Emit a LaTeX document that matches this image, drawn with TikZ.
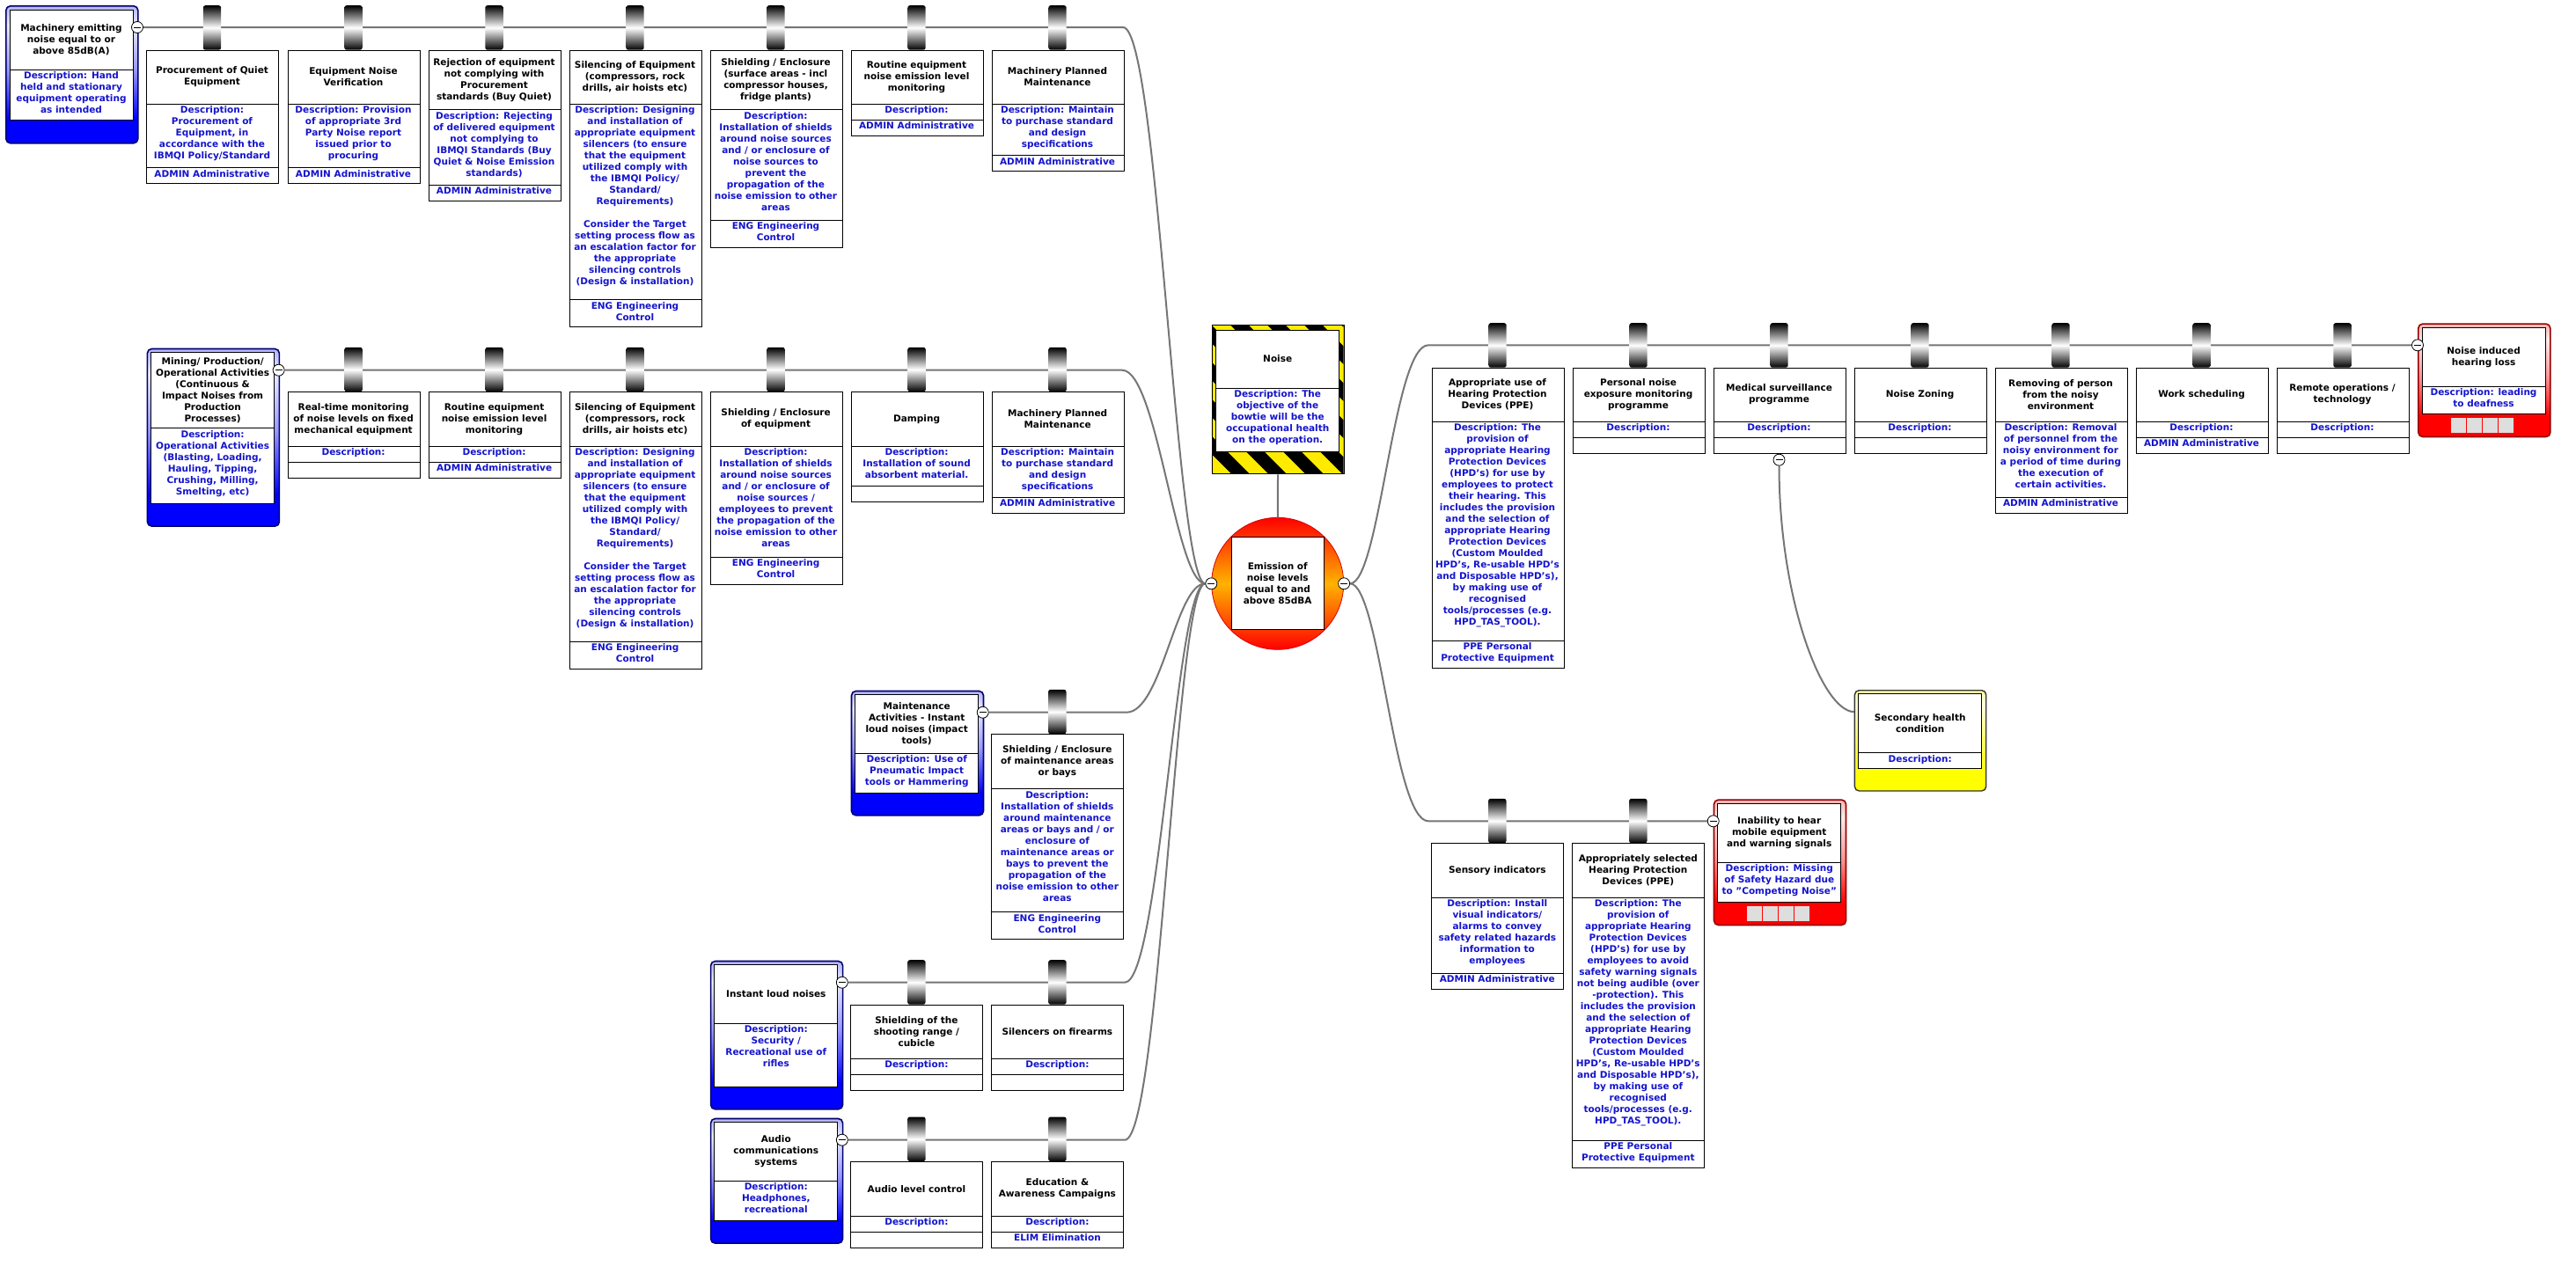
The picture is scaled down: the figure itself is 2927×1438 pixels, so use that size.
\documentclass[tikz,border=0pt]{standalone}
\usepackage{fontspec}
\setmainfont{DejaVu Sans}
\usetikzlibrary{backgrounds}
\definecolor{descblue}{RGB}{20,20,205}
\definecolor{linegray}{RGB}{118,118,118}
\definecolor{navyb}{RGB}{0,0,110}
\definecolor{darkredb}{RGB}{150,0,0}
\definecolor{hzyellow}{RGB}{255,235,0}
\definecolor{sqgray}{RGB}{222,222,222}
\colorlet{tbA}{blue!30!white}
\colorlet{tbB}{blue!8!white}
\colorlet{tbC}{blue!40!white}
\colorlet{trA}{red!30!white}
\colorlet{trB}{red!8!white}
\colorlet{trC}{red!40!white}
\colorlet{tyA}{yellow!40!white}
\colorlet{tyB}{yellow!10!white}
\colorlet{tyC}{yellow!55!white}
\pgfdeclareverticalshading{thrshade}{100bp}{color(0bp)=(blue); color(34bp)=(blue); color(52bp)=(tbC); color(68bp)=(tbB); color(75bp)=(tbA); color(100bp)=(tbA)}
\pgfdeclareverticalshading{conshade}{100bp}{color(0bp)=(red); color(34bp)=(red); color(52bp)=(trC); color(68bp)=(trB); color(75bp)=(trA); color(100bp)=(trA)}
\pgfdeclareverticalshading{secshade}{100bp}{color(0bp)=(yellow); color(34bp)=(yellow); color(52bp)=(tyC); color(68bp)=(tyB); color(75bp)=(tyA); color(100bp)=(tyA)}

% barrier: name, xleft, ytop, div1, div2, bottom, title, desc, category
\newcommand\mkbar[9]{%
  \shade[tabsh] ({#2+64.8},{#3-50.5}) rectangle ({#2+85.2},#3);
  \node[barbox, minimum height={#6pt-#3pt}] (#1) at (#2,#3) {};
  \draw[secl] (#2,#4) -- ({#2+150},#4);
  \draw[secl] (#2,#5) -- ({#2+150},#5);
  \node[ttl] (#1t) at ({#2+75},{(#3+#4)/2}) {#7};
  \node[dsc, anchor=north] (#1d) at ({#2+75},{#4+2.5}) {#8};
  \node[dsc, anchor=north] (#1c) at ({#2+75},{#5+2.5}) {#9};
}
% threat: name, xleft, ytop, ybottom, inner bottom, divider, title, desc
\newcommand\mkthreat[8]{%
  \node[shade, shading=thrshade, draw=navyb, line width=1.6pt, rounded corners=5pt, anchor=north west, minimum width=150pt, minimum height={#4pt-#3pt}, inner sep=0pt] (#1) at (#2,#3) {};
  \draw[secl, fill=white] ({#2+5},{#3+5}) rectangle ({#2+145},#5);
  \draw[secl] ({#2+5},#6) -- ({#2+145},#6);
  \node[ttl] (#1t) at ({#2+75},{(#3+5+#6)/2}) {#7};
  \node[dsc, anchor=north] (#1d) at ({#2+75},{#6+2.5}) {#8};
  \node[minus] (#1m) at ({#2+150},{#3+25}) {};
}
% consequence: name, xleft, ytop, ybottom, inner bottom, divider, title, desc
\newcommand\mkcons[8]{%
  \node[shade, shading=conshade, draw=darkredb, line width=1.6pt, rounded corners=5pt, anchor=north west, minimum width=150pt, minimum height={#4pt-#3pt}, inner sep=0pt] (#1) at (#2,#3) {};
  \draw[secl, fill=white] ({#2+5},{#3+5}) rectangle ({#2+145},#5);
  \draw[secl] ({#2+5},#6) -- ({#2+145},#6);
  \node[ttl] (#1t) at ({#2+75},{(#3+5+#6)/2}) {#7};
  \node[dsc, anchor=north] (#1d) at ({#2+75},{#6+2.5}) {#8};
  \foreach \q in {0,1,2,3} {\fill[sqgray] ({#2+38+\q*18},{#5+5}) rectangle ++(17,16.5);}
  \node[minus] (#1m) at (#2,{#3+25}) {};
}

\begin{document}
\begin{tikzpicture}[x=1pt,y=-1pt,
  conn/.style={draw=linegray, line width=2pt},
  secl/.style={draw=black, line width=1pt},
  barbox/.style={draw=black, line width=1pt, fill=white, anchor=north west, minimum width=150pt, inner sep=0pt},
  ttl/.style={font=\bfseries\fontsize{10.5}{13}\selectfont, align=center, text=black, inner sep=0pt},
  dsc/.style={font=\bfseries\fontsize{10.5}{13}\selectfont, align=center, text=descblue, inner sep=0pt},
  minus/.style={circle, draw=black, fill=white, line width=0.8pt, minimum size=13pt, inner sep=0pt,
    path picture={\draw[line width=0.9pt] ([xshift=-4pt]path picture bounding box.center) -- ([xshift=4pt]path picture bounding box.center);}},
  tabsh/.style={top color=black, bottom color=black, middle color=white, rounded corners=2.5pt},
]
\useasboundingbox (0,0) rectangle (2927,1438);

% ---------------- Row 1 (threat A) ----------------
\mkthreat{thA}{6}{6}{162}{136}{79}{Machinery emitting\\noise equal to or\\above 85dB(A)}{Description: Hand\\held and stationary\\equipment operating\\as intended}
\mkbar{bA1}{166}{56.7}{118.3}{190.7}{208.3}{Procurement of Quiet\\Equipment}{Description:\\Procurement of\\Equipment, in\\accordance with the\\IBMQI Policy/Standard}{ADMIN Administrative}
\mkbar{bA2}{326.5}{56.7}{118.3}{190.7}{208.3}{Equipment Noise\\Verification}{Description: Provision\\of appropriate 3rd\\Party Noise report\\issued prior to\\procuring}{ADMIN Administrative}
\mkbar{bA3}{486.5}{56.7}{124.7}{210}{228.3}{Rejection of equipment\\not complying with\\Procurement\\standards (Buy Quiet)}{Description: Rejecting\\of delivered equipment\\not complying to\\IBMQI Standards (Buy\\Quiet \& Noise Emission\\standards)}{ADMIN Administrative}
\mkbar{bA4}{646.5}{56.7}{118.3}{340.7}{371}{Silencing of Equipment\\(compressors, rock\\drills, air hoists etc)}{Description: Designing\\and installation of\\appropriate equipment\\silencers (to ensure\\that the equipment\\utilized comply with\\the IBMQI Policy/\\Standard/\\Requirements)\\[13pt]Consider the Target\\setting process flow as\\an escalation factor for\\the appropriate\\silencing controls\\(Design \& installation)}{ENG Engineering\\Control}
\mkbar{bA5}{806.5}{56.7}{124.7}{250}{281}{Shielding / Enclosure\\(surface areas - incl\\compressor houses,\\fridge plants)}{Description:\\Installation of shields\\around noise sources\\and / or enclosure of\\noise sources to\\prevent the\\propagation of the\\noise emission to other\\areas}{ENG Engineering\\Control}
\mkbar{bA6}{966.5}{56.7}{118.3}{136.3}{154}{Routine equipment\\noise emission level\\monitoring}{Description:}{ADMIN Administrative}
\mkbar{bA7}{1126.5}{56.7}{118.3}{176.7}{194}{Machinery Planned\\Maintenance}{Description: Maintain\\to purchase standard\\and design\\specifications}{ADMIN Administrative}

% ---------------- Row 2 (threat B) ----------------
\mkthreat{thB}{166.6}{395.7}{597.3}{572.3}{486.7}{Mining/ Production/\\Operational Activities\\(Continuous \&\\Impact Noises from\\Production\\Processes)}{Description:\\Operational Activities\\(Blasting, Loading,\\Hauling, Tipping,\\Crushing, Milling,\\Smelting, etc)}
\mkbar{bB1}{326.6}{445.3}{507.3}{525.3}{543.3}{Real-time monitoring\\of noise levels on fixed\\mechanical equipment}{Description:}{}
\mkbar{bB2}{486.6}{445.3}{507.3}{525.3}{543.3}{Routine equipment\\noise emission level\\monitoring}{Description:}{ADMIN Administrative}
\mkbar{bB3}{646.6}{445.3}{507.3}{729}{760}{Silencing of Equipment\\(compressors, rock\\drills, air hoists etc)}{Description: Designing\\and installation of\\appropriate equipment\\silencers (to ensure\\that the equipment\\utilized comply with\\the IBMQI Policy/\\Standard/\\Requirements)\\[13pt]Consider the Target\\setting process flow as\\an escalation factor for\\the appropriate\\silencing controls\\(Design \& installation)}{ENG Engineering\\Control}
\mkbar{bB4}{806.6}{445.3}{507.3}{633.3}{664.3}{Shielding / Enclosure\\of equipment}{Description:\\Installation of shields\\around noise sources\\and / or enclosure of\\noise sources /\\employees to prevent\\the propagation of the\\noise emission to other\\areas}{ENG Engineering\\Control}
\mkbar{bB5}{966.6}{445.3}{507.3}{552.3}{570.3}{Damping}{Description:\\Installation of sound\\absorbent material.}{}
\mkbar{bB6}{1126.6}{445.3}{507.3}{565}{583}{Machinery Planned\\Maintenance}{Description: Maintain\\to purchase standard\\and design\\specifications}{ADMIN Administrative}

% ---------------- Row 3 (threat C) ----------------
\mkthreat{thC}{966.7}{784.7}{926}{901.7}{856}{Maintenance\\Activities - Instant\\loud noises (impact\\tools)}{Description: Use of\\Pneumatic Impact\\tools or Hammering}
\mkbar{bC1}{1126.3}{834.3}{896.7}{1036.7}{1067.3}{Shielding / Enclosure\\of maintenance areas\\or  bays}{Description:\\Installation of shields\\around maintenance\\areas or bays and / or\\enclosure of\\maintenance areas or\\bays to prevent the\\propagation of the\\noise emission to other\\areas}{ENG Engineering\\Control}

% ---------------- Row 4 (threat D) ----------------
\mkthreat{thD}{806.8}{1091.7}{1260}{1235}{1163.3}{Instant loud noises}{Description:\\Security /\\Recreational use of\\rifles}
\mkbar{bD1}{966.4}{1141.7}{1203.3}{1221.3}{1239.3}{Shielding of the\\shooting range /\\cubicle}{Description:}{}
\mkbar{bD2}{1126.4}{1141.7}{1203.3}{1221.3}{1239.3}{Silencers on firearms}{Description:}{}

% ---------------- Row 5 (threat E) ----------------
\mkthreat{thE}{806.8}{1270.7}{1412.3}{1387.3}{1342.3}{Audio\\communications\\systems}{Description:\\Headphones,\\recreational}
\mkbar{bE1}{966.4}{1320}{1382.3}{1400.3}{1418.3}{Audio level control}{Description:}{}
\mkbar{bE2}{1126.4}{1320}{1382.3}{1400.3}{1418.3}{Education \&\\Awareness Campaigns}{Description:}{ELIM Elimination}

% ---------------- Hazard ----------------
\begin{scope}
  \clip (1376.7,369.3) rectangle (1526.7,538.3);
  \fill[black] (1376.7,369.3) rectangle (1526.7,538.3);
  \foreach \k in {-5,...,4} {\fill[hzyellow] ({1376.7+\k*42},369.3) -- ++(21,0) -- ++(170,170) -- ++(-21,0) -- cycle;}
\end{scope}
\node[draw=black, line width=1pt, anchor=north west, minimum width=150pt, minimum height=169pt, inner sep=0pt] (haz) at (1376.7,369.3) {};
\draw[secl, fill=white] (1381.7,375) rectangle (1521.7,513.3);
\draw[secl] (1381.7,441) -- (1521.7,441);
\node[ttl] (hazt) at (1451.7,408) {Noise};
\node[dsc, anchor=north] (hazd) at (1451.7,443.5) {Description: The\\objective of the\\bowtie will be the\\occupational health\\on the operation.};

% ---------------- Top event ----------------
\node[circle, shade, top color=red, bottom color=red, middle color=orange!60!yellow, draw=red!85!black, line width=0.8pt, minimum size=150pt, inner sep=0pt] (te) at (1451.7,663.3) {};
\node[draw=black, fill=white, line width=1pt, minimum size=105pt, inner sep=0pt] (tesq) at (te.center) {};
\node[ttl] (tet) at (te.center) {Emission of\\noise levels\\equal to and\\above 85dBA};
\node[minus] (teL) at (te.west) {};
\node[minus] (teR) at (te.east) {};

% ---------------- Right row 1 ----------------
\mkbar{cA1}{1626.5}{417.7}{479.3}{728.3}{759.3}{Appropriate use of\\Hearing Protection\\Devices (PPE)}{Description: The\\provision of\\appropriate Hearing\\Protection Devices\\(HPD's)  for use by\\employees to protect\\their hearing.  This\\includes the provision\\and the selection of\\appropriate Hearing\\Protection Devices\\(Custom Moulded\\HPD's, Re-usable HPD's\\and Disposable HPD's),\\by making use of\\recognised\\tools/processes (e.g.\\HPD\_TAS\_TOOL).}{PPE Personal\\Protective Equipment}
\mkbar{cA2}{1786.5}{417.7}{479.3}{497.3}{515.3}{Personal noise\\exposure monitoring\\programme}{Description:}{}
\mkbar{cA3}{1946.5}{417.7}{479.3}{497.3}{515.3}{Medical surveillance\\programme}{Description:}{}
\mkbar{cA4}{2106.5}{417.7}{479.3}{497.3}{515.3}{Noise Zoning}{Description:}{}
\mkbar{cA5}{2266.5}{417.7}{479.3}{565.3}{583.3}{Removing of person\\from the noisy\\environment}{Description: Removal\\of personnel from the\\noisy environment for\\a period of time during\\the execution of\\certain activities.}{ADMIN Administrative}
\mkbar{cA6}{2426.5}{417.7}{479.3}{497.3}{515.3}{Work scheduling}{Description:}{ADMIN Administrative}
\mkbar{cA7}{2586.5}{417.7}{479.3}{497.3}{515.3}{Remote operations /\\technology}{Description:}{}
\mkcons{csA}{2747}{367.3}{495.7}{470.3}{439.3}{Noise induced\\hearing loss}{Description: leading\\to deafness}
\node[minus] (cA3m) at (2021.5,522.7) {};

% ---------------- Right row 2 ----------------
\mkbar{cB1}{1626.3}{958.3}{1020.3}{1106.3}{1124.3}{Sensory indicators}{Description: Install\\visual indicators/\\alarms to convey\\safety related hazards\\information to\\employees}{ADMIN Administrative}
\mkbar{cB2}{1786.3}{958.3}{1020.3}{1296.3}{1327.3}{Appropriately selected\\Hearing Protection\\Devices (PPE)}{Description: The\\provision of\\appropriate Hearing\\Protection Devices\\(HPD's)  for use by\\employees to avoid\\safety warning signals\\not being audible (over\\-protection).  This\\includes the provision\\and the selection of\\appropriate Hearing\\Protection Devices\\(Custom Moulded\\HPD's, Re-usable HPD's\\and Disposable HPD's),\\by making use of\\recognised\\tools/processes (e.g.\\HPD\_TAS\_TOOL).}{PPE Personal\\Protective Equipment}
\mkcons{csB}{1946.7}{908.3}{1050.7}{1025}{980}{Inability to hear\\mobile equipment\\and warning signals}{Description: Missing\\of Safety Hazard due\\to "Competing Noise"}

% ---------------- Secondary consequence ----------------
\node[shade, shading=secshade, draw=black!80, line width=1.4pt, rounded corners=5pt, anchor=north west, minimum width=149.3pt, minimum height=114.3pt, inner sep=0pt] (sec) at (2106.7,784) {};
\draw[secl, fill=white] (2111.7,788.7) rectangle (2251.7,873.3);
\draw[secl] (2111.7,855.7) -- (2251.7,855.7);
\node[ttl] (sect) at (2181.7,822.2) {Secondary health\\condition};
\node[dsc, anchor=north] (secd) at (2181.7,858.2) {Description:};

% ---------------- Connectors ----------------
\begin{pgfonlayer}{background}
\fill[white] (0,0) rectangle (2927,1438);
\draw[conn] (thAm) -- (1276,31) .. controls (1316,31) and (1336,663.3) .. (teL);
\draw[conn] (thBm) -- (1275,420.7) .. controls (1315,420.7) and (1336,663.3) .. (teL);
\draw[conn] (thCm) -- (1280,809.7) .. controls (1320,809.7) and (1336,663.3) .. (teL);
\draw[conn] (thDm) -- (1278,1116.7) .. controls (1318,1116.7) and (1336,663.3) .. (teL);
\draw[conn] (thEm) -- (1278,1295.7) .. controls (1318,1295.7) and (1336,663.3) .. (teL);
\draw[conn] (haz) -- (te);
\draw[conn] (teR) .. controls (1568,663.3) and (1583,392.3) .. (1623,392.3) -- (csAm);
\draw[conn] (teR) .. controls (1568,663.3) and (1583,933.3) .. (1623,933.3) -- (csBm);
\draw[conn] (cA3m) .. controls (2021.5,680) and (2070,808.3) .. ([yshift=32.7pt]sec.west);
\end{pgfonlayer}
\end{tikzpicture}
\end{document}
